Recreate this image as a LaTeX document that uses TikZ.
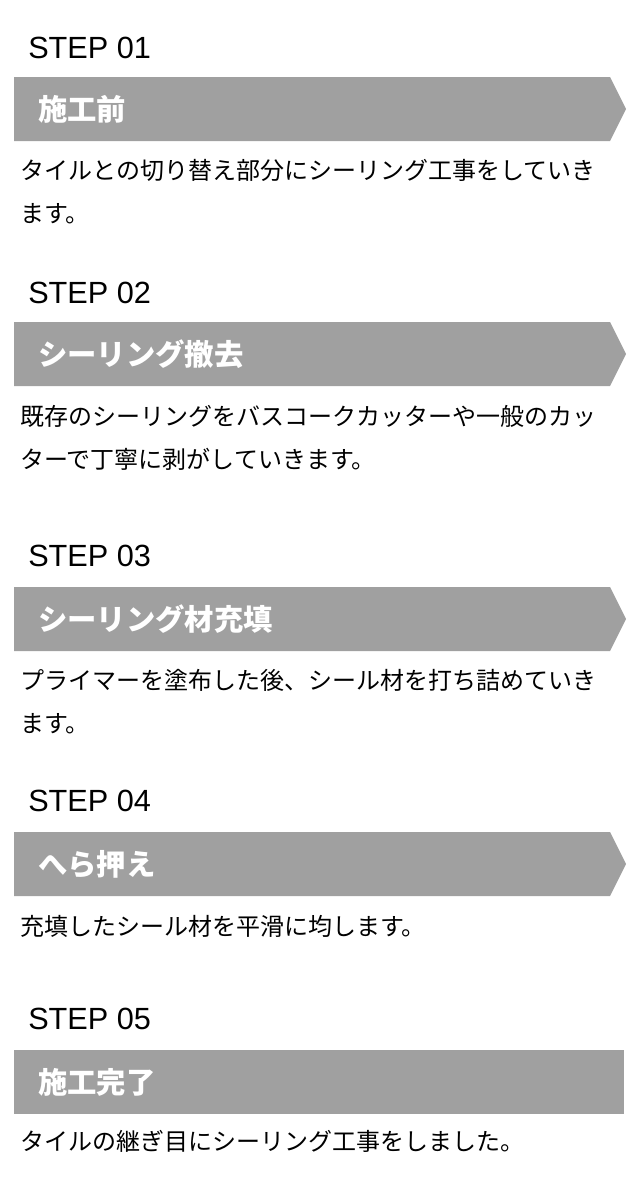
\documentclass[tikz,border=0pt]{standalone}
\usepackage{fontspec}
\setmainfont{Liberation Sans}
\newfontfamily\jp{Noto Sans CJK JP}
\usetikzlibrary{positioning}
\definecolor{bar}{RGB}{160,160,160}
\tikzset{
  steplabel/.style={anchor=base west,inner sep=0pt,
    font=\fontsize{23}{27}\selectfont},
  headline/.style={anchor=base west,inner sep=0pt,text=white,
    font=\jp\bfseries\fontsize{22}{26}\selectfont},
  % base of a two-line text is its last line
  bodytext/.style={anchor=base west,inner sep=0pt,align=left,
    font=\jp\fontsize{18}{32.25}\selectfont},
  banner/.style={fill=bar,draw=none}
}

\begin{document}
\begin{tikzpicture}[x=0.75pt,y=-0.75pt]
 \useasboundingbox (0,0) rectangle (640,1203);
 % step 1
 \node[steplabel] (step1) at (28,58) {STEP 01};
 \fill[banner] (14,77) -- (610,77) -- (626,109) -- (610,141) -- (14,141) -- cycle;
 \node[headline] (head1) at (38,120) {施工前};
 \node[bodytext] (text1) at (20,222) {タイルとの切り替え部分にシーリング工事をしていき\\ます。};
 % step 2
 \node[steplabel] (step2) at (28,303) {STEP 02};
 \fill[banner] (14,322) -- (610,322) -- (626,354) -- (610,386) -- (14,386) -- cycle;
 \node[headline] (head2) at (38,365) {シーリング撤去};
 \node[bodytext] (text2) at (20,468) {既存のシーリングをバスコークカッターや一般のカッ\\ターで丁寧に剥がしていきます。};
 % step 3
 \node[steplabel] (step3) at (28,566) {STEP 03};
 \fill[banner] (14,587) -- (610,587) -- (626,619) -- (610,651) -- (14,651) -- cycle;
 \node[headline] (head3) at (38,630) {シーリング材充填};
 \node[bodytext] (text3) at (20,732) {プライマーを塗布した後、シール材を打ち詰めていき\\ます。};
 % step 4
 \node[steplabel] (step4) at (28,811) {STEP 04};
 \fill[banner] (14,832) -- (610,832) -- (626,864) -- (610,896) -- (14,896) -- cycle;
 \node[headline] (head4) at (38,875) {へら押え};
 \node[bodytext] (text4) at (20,935) {充填したシール材を平滑に均します。};
 % step 5: last one, no point
 \node[steplabel] (step5) at (28,1029) {STEP 05};
 \fill[banner] (14,1050) rectangle (624,1114);
 \node[headline] (head5) at (38,1093) {施工完了};
 \node[bodytext] (text5) at (20,1150) {タイルの継ぎ目にシーリング工事をしました。};
\end{tikzpicture}
\end{document}
